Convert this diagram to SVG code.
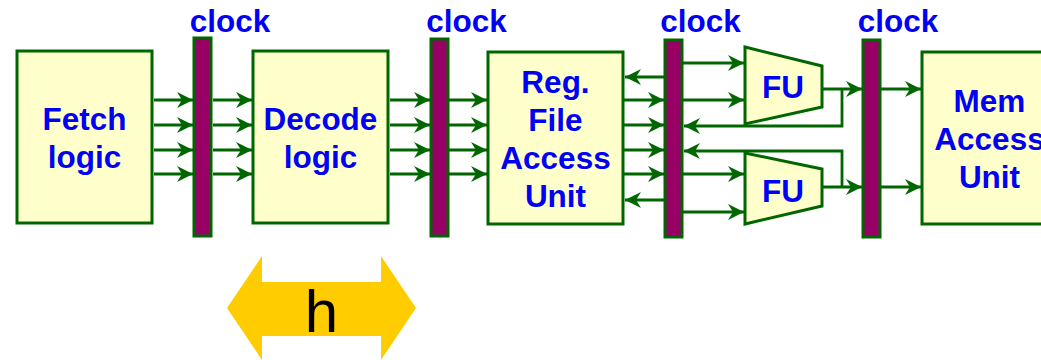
<svg xmlns="http://www.w3.org/2000/svg" width="1041" height="360" viewBox="0 0 1041 360">
<style>
.box{fill:#FFFFCC;stroke:#006600;stroke-width:3}
.bar{fill:#990066;stroke:#006600;stroke-width:3}
.lbl{font-family:"Liberation Sans",Arial,sans-serif;font-weight:bold;font-size:31.5px;fill:#0000F5;text-anchor:middle}
.w{fill:none;stroke:#006600;stroke-width:2.8}
.a{marker-end:url(#ah)}
</style>
<defs>
<marker id="ah" viewBox="0 0 16 16" markerWidth="16" markerHeight="16" refX="16" refY="8" orient="auto" markerUnits="userSpaceOnUse">
<path d="M0,0 L16,8 L0,16 L5,8 z" fill="#006600"/>
</marker>
</defs>
<rect width="1041" height="360" fill="#FFFFFF"/>
<g id="fetch"><rect class="box" x="17" y="51" width="135" height="172"/><text class="lbl" x="84.5" y="130">Fetch</text><text class="lbl" x="84.5" y="168">logic</text></g>
<g id="decode"><rect class="box" x="253" y="51" width="135" height="172"/><text class="lbl" x="320.5" y="130">Decode</text><text class="lbl" x="320.5" y="168">logic</text></g>
<g id="regfile"><rect class="box" x="488" y="52" width="135" height="172"/><text class="lbl" x="555.5" y="93">Reg.</text><text class="lbl" x="555.5" y="131">File</text><text class="lbl" x="555.5" y="169">Access</text><text class="lbl" x="555.5" y="207">Unit</text></g>
<g id="mem"><rect class="box" x="922" y="52" width="135" height="172"/><text class="lbl" x="989.5" y="112">Mem</text><text class="lbl" x="989.5" y="150">Access</text><text class="lbl" x="989.5" y="188">Unit</text></g>
<g id="fu1"><polygon class="box" points="745,47 822,66 822,107 745,124"/><text class="lbl" x="783" y="98">FU</text></g>
<g id="fu2"><polygon class="box" points="745,153 822,169 822,206 745,224"/><text class="lbl" x="783" y="202">FU</text></g>
<g id="clock1"><rect class="bar" x="194" y="38" width="17" height="198"/><text class="lbl" x="230" y="32">clock</text></g>
<g id="clock2"><rect class="bar" x="431" y="39" width="17" height="197"/><text class="lbl" x="466.5" y="32">clock</text></g>
<g id="clock3"><rect class="bar" x="665" y="40" width="17" height="197"/><text class="lbl" x="700.5" y="32">clock</text></g>
<g id="clock4"><rect class="bar" x="863" y="40" width="17" height="197"/><text class="lbl" x="898" y="32">clock</text></g>
<g id="connectors">
<path class="w a" d="M154,100H193"/><path class="w a" d="M154,125H193"/><path class="w a" d="M154,150H193"/><path class="w a" d="M154,174H193"/>
<path class="w a" d="M213,100H252"/><path class="w a" d="M213,125H252"/><path class="w a" d="M213,150H252"/><path class="w a" d="M213,174H252"/>
<path class="w a" d="M390,100H430"/><path class="w a" d="M390,125H430"/><path class="w a" d="M390,150H430"/><path class="w a" d="M390,174H430"/>
<path class="w a" d="M449,100H487"/><path class="w a" d="M449,125H487"/><path class="w a" d="M449,150H487"/><path class="w a" d="M449,174H487"/>
<path class="w a" d="M664,77H625"/><path class="w a" d="M664,200H625"/>
<path class="w a" d="M624,100H664"/><path class="w a" d="M624,125H664"/><path class="w a" d="M624,150H664"/><path class="w a" d="M624,174H664"/>
<path class="w a" d="M683,63H744"/><path class="w a" d="M683,100H744"/><path class="w a" d="M683,174H744"/><path class="w a" d="M683,212H744"/>
<path class="w a" d="M822,89H862"/><path class="w a" d="M842,89V126H684"/>
<path class="w a" d="M822,187H862"/><path class="w a" d="M842,187V151H684"/>
<path class="w a" d="M881,89H921"/><path class="w a" d="M881,187H921"/>
</g>
<g id="h-arrow"><polygon points="227,308 262,256 262,282 381,282 381,256 416,308 381,360 381,336 262,336 262,360" fill="#FFCC00"/><text x="321.5" y="332" font-family="Liberation Sans,Arial,sans-serif" font-size="60" text-anchor="middle" fill="#000000">h</text></g>
</svg>
